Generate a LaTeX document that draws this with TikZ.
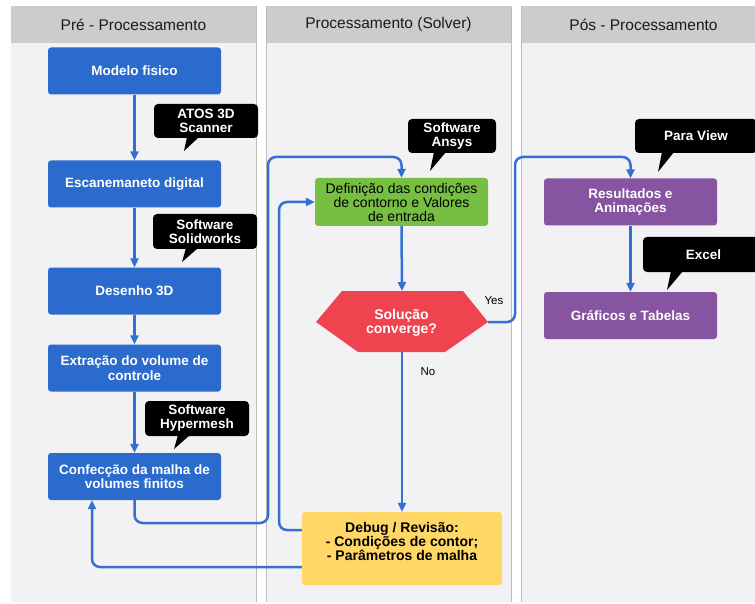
\documentclass[tikz,border=0pt]{standalone}
\usepackage{fontspec}
\setmainfont{Liberation Sans}
\usetikzlibrary{arrows.meta}
\definecolor{lanebg}{HTML}{F2F2F5}
\definecolor{headbg}{HTML}{CCCCCC}
\definecolor{laneline}{HTML}{BDBDBD}
\definecolor{bluebox}{HTML}{2B6BCE}
\definecolor{conncol}{HTML}{3370D1}
\definecolor{greenbox}{HTML}{76BF43}
\definecolor{redbox}{HTML}{EF4450}
\definecolor{yellowbox}{HTML}{FED766}
\definecolor{purplebox}{HTML}{8654A0}
\definecolor{headtext}{HTML}{1A1A1A}
\begin{document}
\begin{tikzpicture}[x=1pt,y=-1pt,
  header/.style={text=headtext,font=\fontsize{15.5}{17}\selectfont},
  procbox/.style={rounded corners=3pt,minimum width=173pt,minimum height=47pt,inner sep=0pt,align=center,
    font=\fontsize{13.5}{14.5}\selectfont\bfseries},
  bluestep/.style={procbox,fill=bluebox,text=white},
  greenstep/.style={procbox,fill=greenbox,text=black,minimum height=48pt,font=\fontsize{14}{14}\selectfont},
  purplestep/.style={procbox,fill=purplebox,text=white},
  yellowstep/.style={procbox,fill=yellowbox,text=black,minimum width=200pt,minimum height=73pt,font=\fontsize{14}{14}\selectfont\bfseries},
  callout/.style={fill=black,rounded corners=4pt,text=white,align=center,inner sep=0pt,minimum height=34pt,
    font=\fontsize{13.5}{14}\selectfont\bfseries},
  conn/.style={draw=conncol,line width=2.5pt,rounded corners=8pt,-{Triangle[length=9pt,width=8pt]}},
  small/.style={font=\fontsize{11.5}{12}\selectfont,text=black}
]
\useasboundingbox (0,0) rectangle (755,604);
\fill[white] (0,0) rectangle (755,604);
% lanes
\fill[lanebg] (11,43) rectangle (256,602);
\fill[headbg] (11,6) rectangle (256,43);
\fill[lanebg] (266,43) rectangle (511,602);
\fill[headbg] (266,6) rectangle (511,43);
\fill[lanebg] (521,43) rectangle (766,602);
\fill[headbg] (521,6) rectangle (766,43);
\draw[laneline,line width=1pt] (256,6) -- (256,602);
\draw[laneline,line width=1pt] (266,6) -- (266,602);
\draw[laneline,line width=1pt] (511,6) -- (511,602);
\draw[laneline,line width=1pt] (521,6) -- (521,602);
\node[header] (h1) at (133.5,24.5) {Pré - Processamento};
\node[header] (h2) at (388.5,24.5) {Processamento (Solver)};
\node[header] (h3) at (643.5,24.5) {Pós - Processamento};

% lane 1 boxes
\node[bluestep] (m1) at (134.5,71) {Modelo fisico};
\node[bluestep] (m2) at (134.5,184) {Escanemaneto digital};
\node[bluestep] (m3) at (134.5,291) {Desenho 3D};
\node[bluestep] (m4) at (134.5,368) {Extração do volume de\\controle};
\node[bluestep] (m5) at (134.5,476.5) {Confecção da malha de\\volumes finitos};

% lane 2
\node[greenstep] (d1) at (401.5,202) {Definição das condições\\de contorno e Valores\\de entrada};
\fill[redbox] (342,291) -- (463,291) -- (488,322) -- (445,352) -- (358,352) -- (316,322) -- cycle;
\coordinate (hexT) at (402,291);
\coordinate (hexB) at (402,352);
\coordinate (hexR) at (488,322);
\node[text=white,align=center,font=\fontsize{14}{14}\selectfont\bfseries] (conv) at (401.5,323) {Solução\\converge?};
\node[yellowstep] (dbg) at (402,548.5) {Debug / Revisão:\\- Condições de contor;\\- Parâmetros de malha\\~};

% lane 3
\node[purplestep] (r1) at (630.5,202) {Resultados e\\Animações};
\node[purplestep] (r2) at (630.5,315.5) {Gráficos e Tabelas};

% callouts
\node[callout,minimum width=104pt] (c1) at (206,121) {ATOS 3D\\Scanner};
\fill[black] (187,137) -- (199,137) -- (184,151) -- cycle;
\node[callout,minimum width=104pt,minimum height=35pt] (c2) at (205,231.5) {Software\\Solidworks};
\fill[black] (186,248) -- (198,248) -- (182,262) -- cycle;
\node[callout,minimum width=104pt,minimum height=35pt] (c3) at (197,418.5) {Software\\Hypermesh};
\fill[black] (178,435) -- (190,435) -- (174,449) -- cycle;
\node[callout,minimum width=88pt] (c4) at (452,136) {Software\\Ansys};
\fill[black] (434,152) -- (446,152) -- (430,171) -- cycle;
\node[callout,minimum width=122pt] (c5) at (696,136) {Para View};
\fill[black] (662,152) -- (674,152) -- (658,172) -- cycle;
\node[callout,minimum width=121pt,minimum height=35pt] (c6) at (703.5,254.5) {Excel};
\fill[black] (671,271) -- (683,271) -- (667,290) -- cycle;

% connectors
\draw[conn] (m1) -- (m2);
\draw[conn] (m2) -- (m3);
\draw[conn] (m3) -- (m4);
\draw[conn] (m4) -- (m5);
\draw[conn] (m5.south) -- (134.5,523) -- (268,523) -- (268,157) -- (401.5,157) -- (d1.north);
\draw[conn] (d1.south) -- (hexT);
\draw[conn] (hexB) -- (dbg.north) node[pos=0.12,right=14pt,small] (no) {No};
\draw[conn] (dbg.west |- 0,530) -- (279,530) -- (279,202) -- (d1.west);
\draw[conn] (dbg.west |- 0,567) -- (92,567) -- (m5.south -| 92,0);
\draw[conn] (hexR) -- (515,322) -- (515,157) -- (630.5,157) -- (r1.north);
\node[small] (yes) at (494,301) {Yes};
\draw[conn] (r1) -- (r2);
\end{tikzpicture}
\end{document}
